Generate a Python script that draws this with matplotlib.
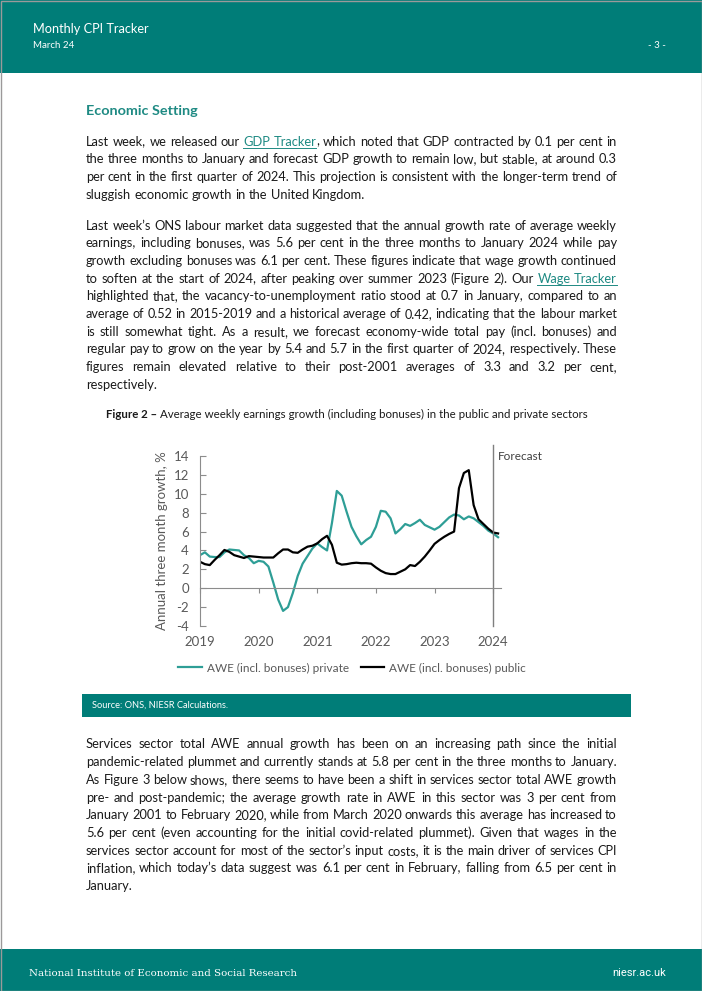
import matplotlib
matplotlib.use('Agg')
import matplotlib.pyplot as plt
from matplotlib.transforms import IdentityTransform
from matplotlib.patches import Rectangle
from matplotlib.lines import Line2D

W, H = 702, 991
TEAL = '#007D78'
LINE_TEAL = '#2E9E96'
LINK = '#1E8A83'
TEXT = '#1A1A1A'
GREY = '#595959'
AXIS = '#8C8C8C'

# monthly data, Jan 2019 .. Feb 2024
months = list(range(62))
private = [3.5, 3.8, 3.35, 3.3, 3.3, 3.8, 4.1, 4.05, 4.0, 3.5, 3.2, 2.65,
           2.9, 2.8, 2.3, 0.6, -1.2, -2.4, -2.0, -0.5, 1.3, 2.6, 3.4, 4.2,
           4.75, 4.35, 4.0, 6.9, 10.3, 9.8, 8.1, 6.5, 5.5, 4.65, 5.1, 5.45,
           6.5, 8.2, 8.1, 7.4, 5.8, 6.25, 6.8, 6.6, 6.9, 7.25, 6.7, 6.45,
           6.2, 6.5, 7.0, 7.5, 7.8, 7.7, 7.3, 7.6, 7.4, 7.0, 6.6, 6.1,
           5.8, 5.4]
public = [2.8, 2.55, 2.45, 3.0, 3.5, 4.05, 3.85, 3.5, 3.35, 3.2, 3.4, 3.35,
          3.3, 3.25, 3.25, 3.25, 3.7, 4.1, 4.1, 3.8, 3.75, 4.1, 4.4, 4.5,
          4.75, 5.2, 5.55, 4.6, 2.7, 2.5, 2.55, 2.65, 2.7, 2.65, 2.65, 2.6,
          2.2, 1.85, 1.6, 1.5, 1.5, 1.75, 2.0, 2.45, 2.35, 2.8, 3.35, 4.0,
          4.7, 5.1, 5.45, 5.75, 6.0, 10.6, 12.2, 12.5, 8.8, 7.3, 6.8, 6.3,
          5.9, 5.8]
year_ticks = [0, 12, 24, 36, 48, 60]
year_labels = ['2019', '2020', '2021', '2022', '2023', '2024']
y_ticks = list(range(-4, 15, 2))
series_names = ['AWE (incl. bonuses) private', 'AWE (incl. bonuses) public']

para1 = [
    "Last week, we released our @GDP @Tracker, which noted that GDP contracted by 0.1 per cent in",
    "the three months to January and forecast GDP growth to remain low, but stable, at around 0.3",
    "per cent in the first quarter of 2024. This projection is consistent with the longer-term trend of",
    "sluggish economic growth in the United Kingdom.",
]
para2 = [
    "Last week\u2019s ONS labour market data suggested that the annual growth rate of average weekly",
    "earnings, including bonuses, was 5.6 per cent in the three months to January 2024 while pay",
    "growth excluding bonuses was 6.1 per cent. These figures indicate that wage growth continued",
    "to soften at the start of 2024, after peaking over summer 2023 (Figure 2). Our @Wage @Tracker",
    "highlighted that, the vacancy-to-unemployment ratio stood at 0.7 in January, compared to an",
    "average of 0.52 in 2015-2019 and a historical average of 0.42, indicating that the labour market",
    "is still somewhat tight. As a result, we forecast economy-wide total pay (incl. bonuses) and",
    "regular pay to grow on the year by 5.4 and 5.7 in the first quarter of 2024, respectively. These",
    "figures remain elevated relative to their post-2001 averages of 3.3 and 3.2 per cent,",
    "respectively.",
]
para3 = [
    "Services sector total AWE annual growth has been on an increasing path since the initial",
    "pandemic-related plummet and currently stands at 5.8 per cent in the three months to January.",
    "As Figure 3 below shows, there seems to have been a shift in services sector total AWE growth",
    "pre- and post-pandemic; the average growth rate in AWE in this sector was 3 per cent from",
    "January 2001 to February 2020, while from March 2020 onwards this average has increased to",
    "5.6 per cent (even accounting for the initial covid-related plummet). Given that wages in the",
    "services sector account for most of the sector\u2019s input costs, it is the main driver of services CPI",
    "inflation, which today\u2019s data suggest was 6.1 per cent in February, falling from 6.5 per cent in",
    "January.",
]

plt.rcParams['font.family'] = ['Lato', 'DejaVu Sans']
plt.rcParams['axes.unicode_minus'] = False

fig = plt.figure(figsize=(W / 100, H / 100), dpi=100)
fig.patch.set_facecolor('white')
renderer = fig.canvas.get_renderer()
ident = IdentityTransform()


def put(x, y, s, **kw):
    # x, y in pixels from top-left
    return fig.text(x, H - y, s, transform=ident, **kw)


def width(t):
    return t.get_window_extent(renderer).width


def measure(s, **kw):
    t = put(0, 0, s, **kw)
    w = width(t)
    t.remove()
    return w


def box(x, y, w, h, color):
    fig.add_artist(Rectangle((x, H - y - h), w, h, transform=ident,
                             facecolor=color, edgecolor='none', zorder=0))


# header / footer bands
box(0, 0, W, 73, TEAL)
box(0, 949, W, 42, TEAL)
put(33, 33, 'Monthly CPI Tracker', color='white', fontsize=9.2, va='baseline')
put(33, 48, 'March 24', color='white', fontsize=7, va='baseline')
put(666, 48, '- 3 -', color='white', fontsize=7, va='baseline', ha='right')
put(29, 973, 'National Institute of Economic and Social Research', color='white',
    fontsize=7.4, va='center', family='DejaVu Serif')
put(666, 973, 'niesr.ac.uk', color='white', fontsize=8, va='center', ha='right',
    family='Roboto')
fig.add_artist(Rectangle((0.5, 0.5), W - 1, H - 1, transform=ident, fill=False,
                         edgecolor='#9A9A9A', lw=1))

L, R = 86, 617
# body size, scaled from the width of a short line in the page
BODY = 9 * 283 / measure(para1[-1], fontsize=9)


def paragraph(lines, y0, step=17.7, size=BODY):
    for i, line in enumerate(lines):
        base = y0 + i * step
        last = i == len(lines) - 1
        sz = size
        plain = line.replace('@', '')
        nat = measure(plain, fontsize=sz)
        if not last and nat > (R - L) - 4:
            sz = sz * ((R - L) - 4) / nat
        space = measure('n n', fontsize=sz) - measure('nn', fontsize=sz)
        words = []
        for tok in line.split():
            link = tok.startswith('@')
            core, tail = tok.lstrip('@'), ''
            if link and core[-1] in ',.':
                core, tail = core[:-1], core[-1]
            full = measure(core + tail, fontsize=sz)
            a = put(0, base, core, color=LINK if link else TEXT, fontsize=sz,
                    va='baseline')
            b = None
            if tail:
                b = put(0, base, tail, color=TEXT, fontsize=sz, va='baseline')
            words.append((a, b, full, link))
        tot = sum(w[2] for w in words)
        if last:
            gap = space
        else:
            gap = (R - L - tot) / (len(words) - 1)
        x = L
        ul = []
        for a, b, full, link in words:
            a.set_x(x)
            if b is not None:
                b.set_x(x + full - width(b))
            if link:
                ul.append((x, x + width(a)))
            x += full + gap
        if ul:
            fig.add_artist(Line2D([ul[0][0], ul[-1][1]], [H - base - 2] * 2,
                                  transform=ident, color=LINK, lw=0.7))


put(86, 115, 'Economic Setting', fontsize=10.4, fontweight='bold', color=LINK,
    va='baseline')
paragraph(para1, 145.5)
paragraph(para2, 229.5)
paragraph(para3, 748.5)

# caption
c1 = put(0, 417.5, 'Figure 2 \u2013', fontsize=8.3, fontweight='bold', color=TEXT,
         va='baseline')
c2 = put(0, 417.5, ' Average weekly earnings growth (including bonuses) in the public and private sectors',
         fontsize=8.3, color=TEXT, va='baseline')
tot = width(c1) + width(c2)
c1.set_x(347 - tot / 2)
c2.set_x(347 - tot / 2 + width(c1))

# source band
box(82, 694, 549, 23, TEAL)
put(92, 705.5, 'Source: ONS, NIESR Calculations.', color='white', fontsize=6.7,
    va='center')

# chart
ax = fig.add_axes([200 / W, 1 - 626 / H, 301 / W, 170 / H])
ax.plot(months, private, color=LINE_TEAL, lw=1.6, label=series_names[0])
ax.plot(months, public, color='black', lw=1.6, label=series_names[1])
ax.set_xlim(0, 61.6)
ax.set_ylim(-4, 14)
ax.set_facecolor('none')
for s in ['top', 'right']:
    ax.spines[s].set_visible(False)
for s in ['left', 'bottom']:
    ax.spines[s].set_color(AXIS)
    ax.spines[s].set_linewidth(0.8)
ax.spines['bottom'].set_position(('data', 0))
ax.set_xticks(year_ticks, year_labels)
ax.set_yticks(y_ticks)
ax.tick_params(axis='y', direction='in', length=4, width=0.8, pad=8,
               color=AXIS, labelcolor=GREY, labelsize=9.5)
ax.tick_params(axis='x', direction='out', length=3.5, width=0.8, pad=31,
               color=AXIS, labelcolor=GREY, labelsize=9.5)
ax.set_ylabel('Annual three month growth, %', color=GREY, fontsize=9.5)
ax.yaxis.set_label_coords(-0.105, 0.5)
ax.axvline(year_ticks[-1], ymin=0, ymax=1.065, clip_on=False, color='#7F7F7F',
           lw=1)
ax.text(60.9, 14, 'Forecast', fontsize=8.5, color='#404040', va='center')

fig.legend(loc='center', bbox_to_anchor=(352 / W, 1 - 668 / H), ncol=2,
           frameon=False, fontsize=8.5, handlelength=2.0, handletextpad=0.4,
           columnspacing=1.0, labelcolor=GREY)

fig.savefig('out.png', dpi=100)
